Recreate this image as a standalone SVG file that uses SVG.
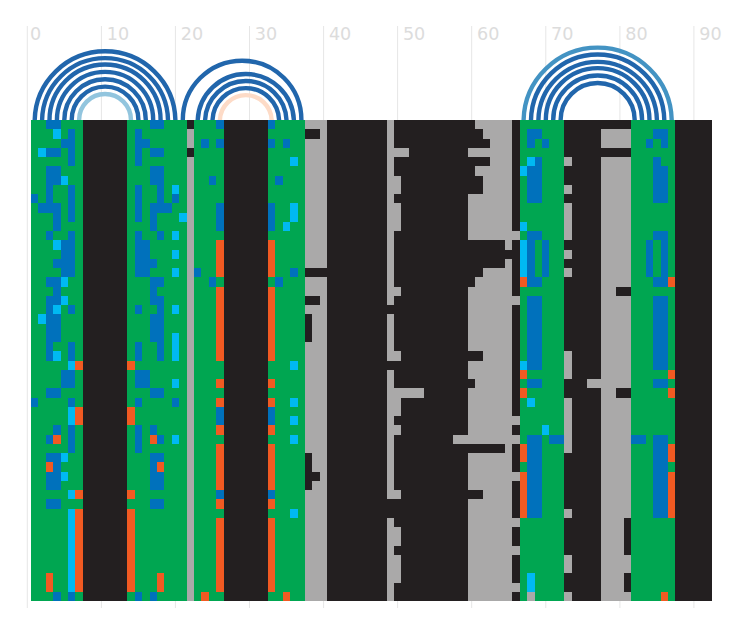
<svg xmlns="http://www.w3.org/2000/svg" width="736" height="632" viewBox="0 0 736 632">
<style>
.tick{stroke:#e6e6e6;stroke-width:1;fill:none}
.lab{font-family:"DejaVu Sans",sans-serif;font-size:17.6px;fill:#dcdcdc}
.arc{fill:none;stroke-width:4.4}
.d{stroke:#2166ac}.l{stroke:#92c5de}.p{stroke:#fddbc7}.m{stroke:#4393c3}
#grid path{shape-rendering:crispEdges}
</style>
<rect width="736" height="632" fill="#fff"/>
<g id="axis">
<path class="tick" d="M27.3 26V608M101.4 26V608M175.4 26V608M249.5 26V608M323.6 26V608M397.6 26V608M471.7 26V608M545.8 26V608M619.9 26V608M693.9 26V608"/>
<text class="lab" x="29.9" y="39.5">0</text>
<text class="lab" x="106.7" y="39.5">10</text>
<text class="lab" x="180.7" y="39.5">20</text>
<text class="lab" x="254.8" y="39.5">30</text>
<text class="lab" x="328.9" y="39.5">40</text>
<text class="lab" x="402.9" y="39.5">50</text>
<text class="lab" x="477" y="39.5">60</text>
<text class="lab" x="551.1" y="39.5">70</text>
<text class="lab" x="625.2" y="39.5">80</text>
<text class="lab" x="699.2" y="39.5">90</text>
</g>
<g id="arcs">
<path class="arc d" d="M34.7 120A70.37 70.37 0 0 1 175.4 120M42.1 120A62.96 62.96 0 0 1 168 120M49.5 120A55.55 55.55 0 0 1 160.6 120M56.9 120A48.15 48.15 0 0 1 153.2 120M64.3 120A40.74 40.74 0 0 1 145.8 120M71.7 120A33.33 33.33 0 0 1 138.4 120"/>
<path class="arc l" d="M79.1 120A25.92 25.92 0 0 1 131 120"/>
<path class="arc d" d="M182.8 120A59.26 59.26 0 0 1 301.4 120M197.7 120A48.15 48.15 0 0 1 293.9 120M205.1 120A40.74 40.74 0 0 1 286.5 120M212.5 120A33.33 33.33 0 0 1 279.1 120"/>
<path class="arc p" d="M219.9 120A25.92 25.92 0 0 1 271.7 120"/>
<path class="arc m" d="M523.6 120A74.07 74.07 0 0 1 671.7 120"/>
<path class="arc d" d="M531 120A66.66 66.66 0 0 1 664.3 120M538.4 120A59.26 59.26 0 0 1 656.9 120M545.8 120A51.85 51.85 0 0 1 649.5 120M553.2 120A44.44 44.44 0 0 1 642.1 120M560.6 120A37.04 37.04 0 0 1 634.7 120"/>
</g>
<g id="grid" transform="translate(31 120) scale(7.407 9.25)">
<path fill="#231f20" d="M0 0h92v52H0z"/>
<path fill="#aaa9a9" d="M21 0h1v52h-1zM37 0h3v52h-3zM48 0h1v52h-1zM59 0h6v52h-6zM77 0h4v52h-4z
M72 4h1v1h-1zM72 7h1v1h-1zM72 9h1v4h-1zM72 14h1v1h-1zM72 16h1v1h-1zM72 25h1v3h-1zM72 30h1v6h-1zM72 42h1v1h-1zM72 47h1v2h-1zM72 51h1v1h-1z
M65 12h1v1h-1zM65 19h1v1h-1zM65 32h1v1h-1zM65 34h1v1h-1zM65 38h1v1h-1zM65 43h1v1h-1zM65 46h1v1h-1zM65 50h1v1h-1z
M49 3h2v1h-2zM49 6h1v2h-1zM49 9h1v3h-1zM49 18h1v1h-1zM49 25h1v1h-1zM49 29h4v1h-4zM49 30h1v2h-1zM49 33h1v1h-1zM49 40h1v1h-1zM49 44h1v2h-1zM49 47h1v3h-1z
M57 34h2v1h-2zM75 28h2v1h-2z"/>
<path fill="#231f20" d="M21 0h1v1h-1zM21 3h1v1h-1z
M37 1h2v1h-2zM37 16h3v1h-3zM37 19h2v1h-2zM37 21h1v3h-1zM37 36h1v4h-1zM38 38h1v1h-1z
M48 20h1v1h-1zM48 26h1v1h-1zM48 41h1v2h-1z
M59 0h1v1h-1zM59 1h2v1h-2zM59 2h3v1h-3zM59 4h3v1h-3zM59 5h1v1h-1zM59 6h2v2h-2zM59 13h5v1h-5zM59 14h6v1h-6zM59 15h5v1h-5zM59 16h2v1h-2zM59 17h1v1h-1zM59 25h2v1h-2zM59 28h1v1h-1zM59 35h5v1h-5zM59 40h2v1h-2z
M77 0h4v1h-4zM77 3h4v1h-4zM79 18h2v1h-2zM79 29h2v1h-2zM80 43h1v4h-1zM80 49h1v2h-1z"/>
<path fill="#00a651" d="M0 0h7v52H0zM13 0h8v52h-8zM22 0h4v52h-4zM32 0h5v52h-5zM66 0h6v52h-6zM81 0h6v52h-6z"/>
<path fill="#0071bc" d="M2 0h2v1H2zM16 0h2v1h-2zM25 0h1v1h-1zM32 0h1v1h-1z
M5 1h1v1H5zM14 1h1v1h-1zM67 1h2v1h-2zM84 1h2v1h-2z
M4 2h2v1H4zM14 2h2v1h-2zM23 2h1v1h-1zM25 2h1v1h-1zM32 2h1v1h-1zM34 2h1v1h-1zM67 2h1v1h-1zM69 2h1v1h-1zM83 2h1v1h-1zM85 2h1v1h-1z
M2 3h2v1H2zM5 3h1v1H5zM14 3h1v1h-1zM16 3h2v1h-2z
M5 4h1v1H5zM14 4h1v1h-1zM68 4h1v1h-1zM84 4h1v1h-1z
M2 5h2v2H2zM16 5h2v2h-2zM24 6h1v1h-1zM33 6h1v1h-1z
M67 5h2v4h-2zM84 5h2v4h-2z
M2 7h1v2H2zM5 7h1v2H5zM14 7h1v2h-1zM17 7h1v2h-1zM0 8h1v1H0zM19 8h1v1h-1z
M1 9h3v1H1zM5 9h1v2H5zM14 9h1v2h-1zM16 9h3v1h-3z
M25 9h1v3h-1zM32 9h1v3h-1z
M3 10h1v2H3zM16 10h1v2h-1z
M2 12h1v1H2zM5 12h1v1H5zM14 12h1v1h-1zM17 12h1v1h-1zM67 12h2v1h-2zM84 12h2v1h-2z
M4 13h2v2H4zM14 13h2v2h-2zM3 15h3v1H3zM14 15h3v1h-3zM4 16h2v1H4zM14 16h2v1h-2z
M67 13h1v4h-1zM69 13h1v4h-1zM83 13h1v4h-1zM85 13h1v4h-1zM22 16h1v1h-1zM35 16h1v1h-1z
M2 17h2v1H2zM16 17h2v1h-2zM24 17h1v1h-1zM33 17h1v1h-1zM67 17h2v1h-2zM84 17h2v1h-2z
M3 18h1v1H3zM16 18h1v1h-1zM2 19h2v1H2zM16 19h2v1h-2z
M2 20h1v1H2zM5 20h1v1H5zM14 20h1v1h-1zM17 20h1v1h-1z
M2 21h2v3H2zM16 21h2v3h-2z
M2 24h1v2H2zM5 24h1v2H5zM14 24h1v2h-1zM17 24h1v2h-1z
M67 19h2v8h-2zM84 19h2v8h-2z
M4 27h2v2H4zM14 27h2v2h-2zM67 28h2v1h-2zM84 28h2v1h-2z
M2 29h2v1H2zM16 29h2v1h-2z
M0 30h1v1H0zM5 30h1v1H5zM14 30h1v1h-1zM19 30h1v1h-1z
M25 31h1v2h-1zM32 31h1v2h-1z
M3 33h1v1H3zM5 33h1v3H5zM14 33h1v3h-1zM16 33h1v1h-1z
M2 34h1v1H2zM17 34h1v1h-1zM70 34h2v1h-2zM81 34h2v1h-2z
M67 34h2v9h-2zM84 34h2v9h-2z
M2 36h2v1H2zM16 36h2v1h-2zM3 37h1v1H3zM16 37h1v1h-1zM2 38h2v2H2zM16 38h2v2h-2z
M25 40h1v1h-1zM32 40h1v1h-1zM2 41h2v1H2zM16 41h2v1h-2z
M3 51h1v1H3zM5 51h1v1H5zM14 51h1v1h-1zM16 51h1v1h-1z"/>
<path fill="#00b9f2" d="M3 1h1v1H3zM1 3h1v1H1zM35 4h1v1h-1zM67 4h1v1h-1zM66 5h1v1h-1zM4 6h1v1H4zM19 7h1v1h-1z
M35 9h1v2h-1zM20 10h1v1h-1zM34 11h1v1h-1zM66 11h1v1h-1zM19 12h1v1h-1zM3 13h1v1H3zM66 13h1v4h-1zM19 14h1v1h-1zM19 16h1v1h-1z
M4 17h1v1H4zM4 19h1v1H4zM3 20h1v1H3zM19 20h1v1h-1zM1 21h1v1H1zM19 23h1v3h-1zM3 25h1v1H3z
M5 26h1v1H5zM35 26h1v1h-1zM66 26h1v1h-1zM19 28h1v1h-1zM35 30h1v1h-1zM67 30h1v1h-1zM5 31h1v2H5zM35 32h1v1h-1zM69 33h1v1h-1z
M19 34h1v1h-1zM35 34h1v1h-1zM4 36h1v1H4zM4 38h1v1H4zM5 40h1v1H5zM35 42h1v1h-1zM5 42h1v9H5zM67 49h1v2h-1z"/>
<path fill="#f15a22" d="M6 26h1v1H6zM13 26h1v1h-1zM6 31h1v2H6zM13 31h1v2h-1zM6 40h1v1H6zM13 40h1v1h-1zM6 42h1v9H6zM13 42h1v9h-1z
M3 34h1v1H3zM16 34h1v1h-1zM2 37h1v1H2zM17 37h1v1h-1zM2 49h1v2H2zM17 49h1v2h-1z
M25 13h1v4h-1zM32 13h1v4h-1zM25 18h1v8h-1zM32 18h1v8h-1zM25 28h1v1h-1zM32 28h1v1h-1zM25 30h1v1h-1zM32 30h1v1h-1zM25 33h1v1h-1zM32 33h1v1h-1zM25 35h1v5h-1zM32 35h1v5h-1zM25 41h1v1h-1zM32 41h1v1h-1zM25 43h1v8h-1zM32 43h1v8h-1z
M23 51h1v1h-1zM34 51h1v1h-1zM85 51h1v1h-1z
M66 17h1v1h-1zM86 17h1v1h-1zM66 27h1v1h-1zM86 27h1v1h-1zM66 29h1v1h-1zM86 29h1v1h-1zM66 35h1v2h-1zM86 35h1v2h-1zM66 38h1v5h-1zM86 38h1v5h-1z"/>
<path fill="#aaa9a9" d="M67 51h1v1h-1z"/>
</g>
</svg>
